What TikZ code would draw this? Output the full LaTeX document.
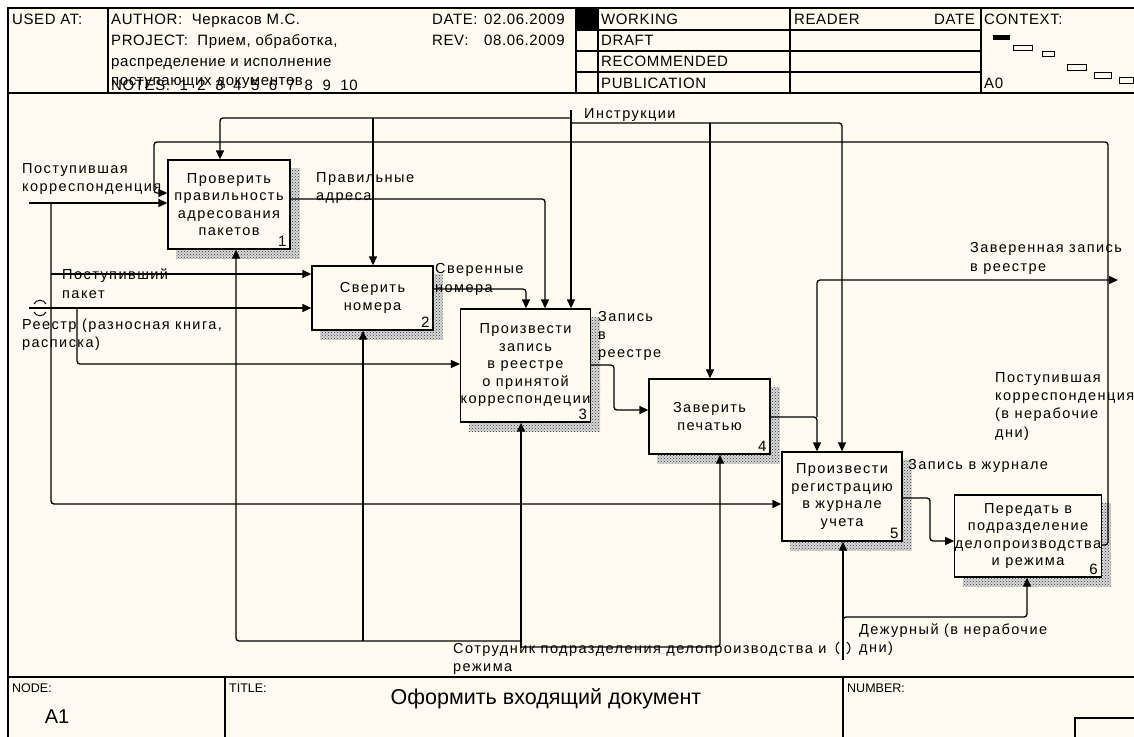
\documentclass[tikz,border=0pt]{standalone}
\usepackage{fontspec}
\setmainfont{Liberation Sans}
\newfontfamily\spaced[LetterSpace=10]{Liberation Sans}
\newfontfamily\hspaced[LetterSpace=4]{Liberation Sans}
\usetikzlibrary{arrows.meta,patterns,calc,backgrounds}
\definecolor{bg}{HTML}{FFFBF0}
\begin{document}
\begin{tikzpicture}[x=1pt,y=-1pt,
  frame/.style={line width=1.3pt},
  box/.style={draw,line width=1.3pt,fill=bg,align=center,inner sep=0pt,font=\spaced\fontsize{14.5}{17.5}\selectfont},
  num/.style={anchor=south east,inner sep=0pt,font=\fontsize{15}{16}\selectfont},
  arr/.style={draw,line width=1.3pt,rounded corners=3pt,-{Triangle[length=9pt,width=8pt]}},
  ln/.style={draw,line width=1.3pt,rounded corners=3pt},
  lbl/.style={anchor=base west,inner sep=0pt,font=\spaced\fontsize{14.5}{17.5}\selectfont},
  hdr/.style={anchor=base west,inner sep=0pt,font=\hspaced\fontsize{15}{17}\selectfont},
  ftr/.style={anchor=base west,inner sep=0pt,font=\fontsize{12.5}{14}\selectfont},
  shadow/.style={fill=black!15,postaction={pattern=crosshatch dots,pattern color=black!80}}
]
\path[use as bounding box] (0,0) rectangle (1134,736);
\clip (0,0) rectangle (1134,736);

% ---------- frame ----------
\draw[frame] (8,745) -- (8,8) -- (1140,8);
\draw[frame] (8,93) -- (1140,93);
\draw[frame] (108,8) -- (108,93);
\fill (576,8) rectangle (598,30);
\draw[frame] (576,8) -- (576,93);
\draw[frame] (598,8) -- (598,93);
\draw[frame] (790,8) -- (790,93);
\draw[frame] (981,8) -- (981,93);
\draw[frame] (576,30) -- (981,30);
\draw[frame] (576,51) -- (981,51);
\draw[frame] (576,72) -- (981,72);
\draw[frame] (8,677) -- (1140,677);
\draw[frame] (225,677) -- (225,745);
\draw[frame] (843,677) -- (843,745);
\draw[frame] (1075,718) rectangle (1140,745);

% context map
\fill (993,35) rectangle (1010,40);
\draw[line width=1pt] (1013,45) rectangle (1032,50);
\draw[line width=1pt] (1042,51) rectangle (1054,56);
\draw[line width=1pt] (1067,64) rectangle (1086,70);
\draw[line width=1pt] (1094,72) rectangle (1111,78);
\draw[line width=1pt] (1119,77) rectangle (1133,83);

% header texts
\node[hdr] (h1) at (12,24) {USED AT:};
\node[hdr] (h2) at (111,24) {AUTHOR:\ \ Черкасов М.С.};
\node[hdr] (h3) at (111,45) {PROJECT:\ \ Прием, обработка,};
\node[hdr] (h4) at (111,66) {распределение и исполнение};
\node[hdr] (h5) at (111,85) {поступающих документов};
\node[hdr] (h6) at (111,90) {NOTES:\ \ 1\ \ 2\ \ 3\ \ 4\ \ 5\ \ 6\ \ 7\ \ 8\ \ 9\ \ 10};
\node[hdr] (h7) at (432,24) {DATE:};
\node[hdr] (h8) at (484,24) {02.06.2009};
\node[hdr] (h9) at (432,45) {REV:};
\node[hdr] (h10) at (484,45) {08.06.2009};
\node[hdr] (h11) at (601,24) {WORKING};
\node[hdr] (h12) at (601,45) {DRAFT};
\node[hdr] (h13) at (601,66) {RECOMMENDED};
\node[hdr] (h14) at (601,88) {PUBLICATION};
\node[hdr] (h15) at (794,24) {READER};
\node[hdr,anchor=base east] (h16) at (975,24) {DATE};
\node[hdr] (h17) at (984,24) {CONTEXT:};
\node[hdr] (h18) at (984,88) {A0};

% footer texts
\node[ftr] (f1) at (12,692) {NODE:};
\node[inner sep=0pt,font=\fontsize{20}{22}\selectfont] (f2) at (57,717) {A1};
\node[ftr] (f3) at (229,692) {TITLE:};
\node[inner sep=0pt,font=\fontsize{21.5}{24}\selectfont] (f4) at (546,699) {Оформить входящий документ};
\node[ftr] (f5) at (847,692) {NUMBER:};

% ---------- boxes ----------
\node[box,minimum width=122pt,minimum height=89pt] (b1) at (229,204.5) {Проверить\\правильность\\адресования\\пакетов};
\node[box,minimum width=121pt,minimum height=64pt] (b2) at (372.5,298) {Сверить\\номера};
\node[box,minimum width=121pt,minimum height=113pt] (b3) at (525.5,365.5) {Произвести\\запись\\в реестре\\о принятой\\корреспондеции};
\node[box,minimum width=121pt,minimum height=75pt] (b4) at (709.5,416.5) {Заверить\\печатью};
\node[box,minimum width=120pt,minimum height=89pt] (b5) at (842,496.5) {Произвести\\регистрацию\\в журнале\\учета};
\node[box,minimum width=138pt,minimum height=82pt] (b6) at (1028,536) {Передать в\\подразделение\\делопроизводства\\и режима};
\node[num] (n1) at ($(b1.south east)+(-4,-3)$) {1};
\node[num] (n2) at ($(b2.south east)+(-4,-3)$) {2};
\node[num] (n3) at ($(b3.south east)+(-4,-3)$) {3};
\node[num] (n4) at ($(b4.south east)+(-4,-3)$) {4};
\node[num] (n5) at ($(b5.south east)+(-4,-3)$) {5};
\node[num] (n6) at ($(b6.south east)+(-4,-3)$) {6};

\begin{scope}[on background layer]
\fill[white] (0,0) rectangle (1134,736);
\fill[bg] (8,8) rectangle (1140,745);
\foreach \bx in {b1,b2,b3,b4,b5,b6}
  \fill[shadow] ($(\bx.north west)+(9,9)$) rectangle ($(\bx.south east)+(9,9)$);
\end{scope}

% ---------- inputs ----------
\coordinate (s1) at (29,203);
\draw[arr] (s1) -- (b1.west |- s1);
\draw[arr] (51,203) -- (51,504) -- (b5.west |- 0,504);
\draw[arr] (51,274) -- (b2.west |- 0,274);
\coordinate (s2) at (29,308);
\draw[arr] (s2) -- (b2.west |- s2);
\draw[arr] (77,308) -- (77,364) -- (b3.west |- 0,364);
\draw[line width=1pt] (34,304) .. controls (36,299) and (44,299) .. (46,304);
\draw[line width=1pt] (34,312) .. controls (36,317) and (44,317) .. (46,312);

% ---------- controls ----------
\coordinate (s3) at (571,110);
\draw[arr] (s3) -- (s3 |- b3.north);
\draw[arr] (571,118) -- (220,118) -- (220,0 |- b1.north);
\draw[arr] (373,118) -- (373,0 |- b2.north);
\draw[arr] (571,123) -- (842,123) -- (842,0 |- b5.north);
\draw[arr] (710,123) -- (710,0 |- b4.north);

% ---------- outputs ----------
\draw[arr] (b1.east |- 0,199) -- (545,199) -- (545,0 |- b3.north);
\draw[arr] (b2.east |- 0,289) -- (526,289) -- (526,0 |- b3.north);
\draw[arr] (b3.east |- 0,365) -- (614,365) -- (614,410) -- (b4.west |- 0,410);
\draw[arr] (b4.east |- 0,417) -- (817,417) -- (817,0 |- b5.north);
\coordinate (e1) at (1118,280);
\draw[arr] (817,417) -- (817,280) -- (e1);
\draw[arr] (b5.east |- 0,498) -- (930,498) -- (930,541) -- (b6.west |- 0,541);
\draw[arr] (b6.east |- 0,545) -- (1108,545) -- (1108,142) -- (154,142) -- (154,193) -- (b1.west |- 0,193);

% ---------- mechanisms ----------
\coordinate (m1) at (521,648);
\draw[arr] (m1) -- (m1 |- b3.south);
\draw[arr] (521,641) -- (236,641) -- (236,0 |- b1.south);
\draw[arr] (363,641) -- (363,0 |- b2.south);
\draw[arr] (521,647) -- (720,647) -- (720,0 |- b4.south);
\coordinate (m2) at (843,660);
\draw[arr] (m2) -- (m2 |- b5.south);
\draw[arr] (843,625) -- (843,617) -- (1027,617) -- (1027,0 |- b6.south);
\draw[line width=1pt] (839,642) .. controls (835,645) and (835,651) .. (839,654);
\draw[line width=1pt] (847,642) .. controls (851,645) and (851,651) .. (847,654);

% ---------- labels ----------
\node[lbl] (t1) at (22,173) {Поступившая};
\node[lbl] (t2) at (22,191) {корреспонденция};
\node[lbl] (t3) at (62,279) {Поступивший};
\node[lbl] (t4) at (62,298) {пакет};
\node[lbl] (t5) at (22,329) {Реестр (разносная книга,};
\node[lbl] (t6) at (22,347) {расписка)};
\node[lbl] (t7) at (316,182) {Правильные};
\node[lbl] (t8) at (316,200) {адреса};
\node[lbl] (t9) at (435,273) {Сверенные};
\node[lbl] (t10) at (435,292) {номера};
\node[lbl] (t11) at (584,118) {Инструкции};
\node[lbl] (t12) at (598,321) {Запись};
\node[lbl] (t13) at (598,339) {в};
\node[lbl] (t14) at (598,357) {реестре};
\node[lbl] (t15) at (970,252) {Заверенная запись};
\node[lbl] (t16) at (970,271) {в реестре};
\node[lbl] (t17) at (995,382) {Поступившая};
\node[lbl] (t18) at (995,400) {корреспонденция};
\node[lbl] (t19) at (995,418) {(в нерабочие};
\node[lbl] (t20) at (995,437) {дни)};
\node[lbl] (t21) at (908,469) {Запись в журнале};
\node[lbl] (t22) at (859,634) {Дежурный (в нерабочие};
\node[lbl] (t23) at (859,652) {дни)};
\node[lbl] (t24) at (453,653) {Сотрудник подразделения делопроизводства и};
\node[lbl] (t25) at (453,671) {режима};
\end{tikzpicture}
\end{document}
